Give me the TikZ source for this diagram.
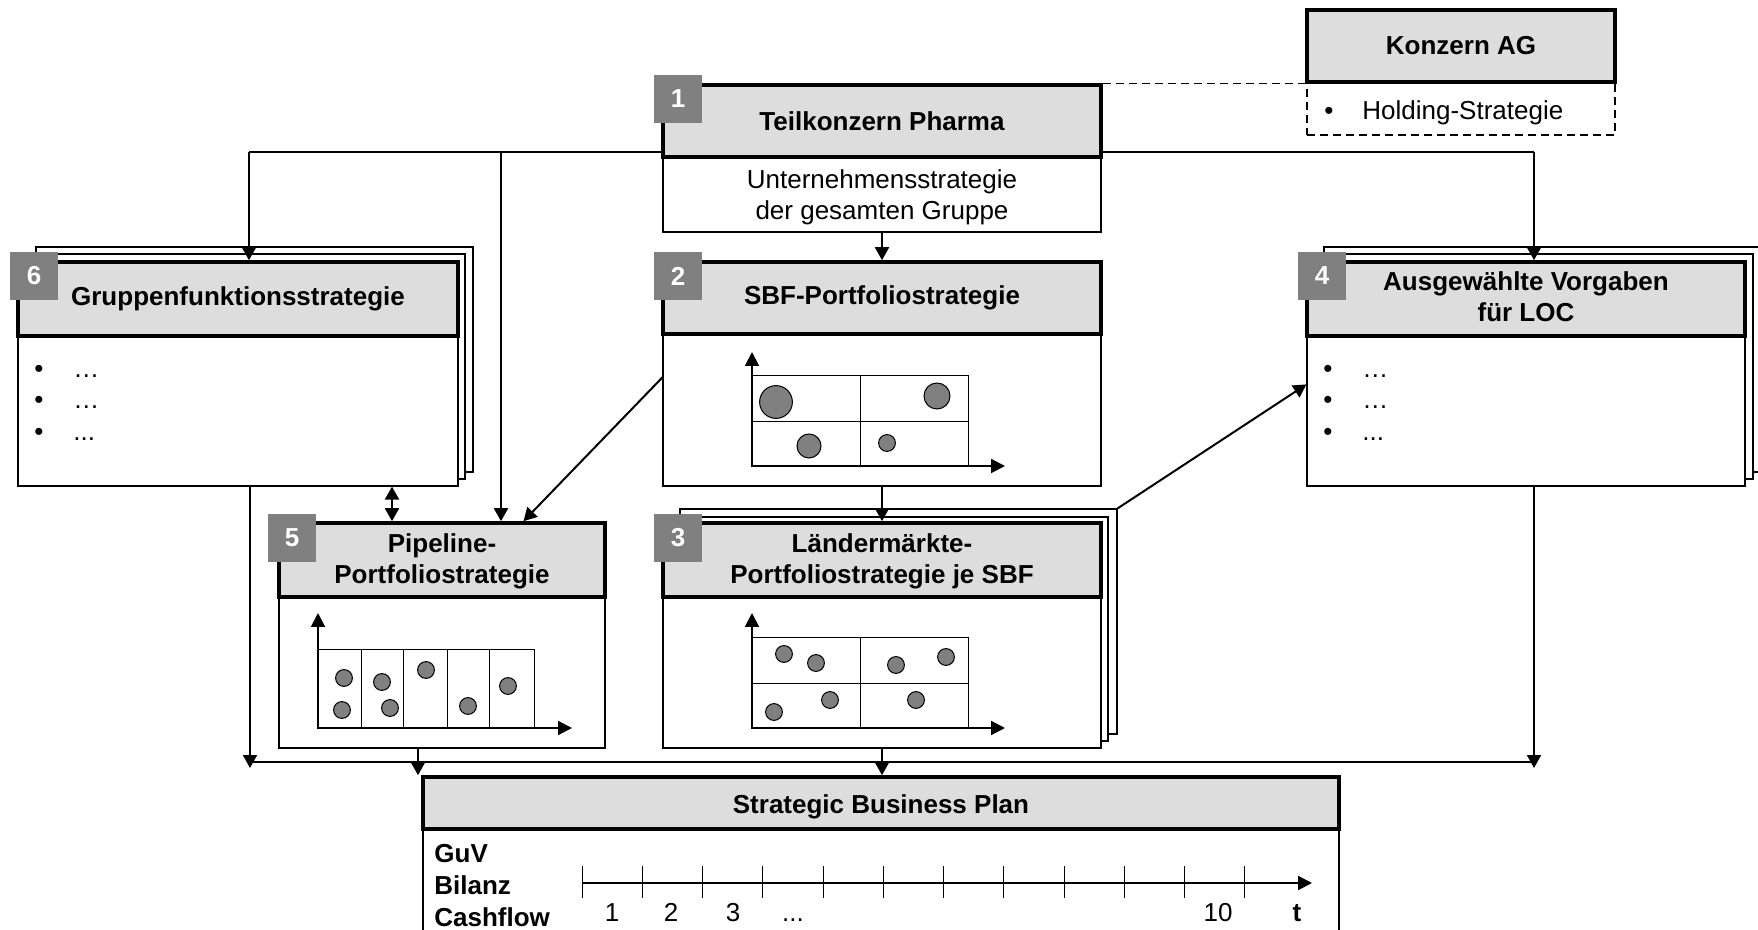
\documentclass[tikz,border=0pt]{standalone}
\usepackage{fontspec}
\setmainfont{Liberation Sans}
\usetikzlibrary{arrows.meta,fit,calc}
\definecolor{hdrgray}{RGB}{221,221,221}
\definecolor{badgegray}{RGB}{128,128,128}
\definecolor{dotgray}{RGB}{128,128,128}
\begin{document}
\begin{tikzpicture}[x=0.5pt,y=-0.5pt,
 hdr/.style={draw, line width=1.8pt, fill=hdrgray, inner sep=0pt},
 htxt/.style={inner sep=0pt, font=\bfseries\fontsize{13}{15.5}\selectfont, align=center},
 cont/.style={draw, line width=0.6pt, fill=white, inner sep=0pt},
 page/.style={draw, line width=0.6pt, fill=white, inner sep=0pt},
 badge/.style={fill=badgegray, inner sep=0pt, minimum size=24pt, font=\bfseries\fontsize{13}{15}\selectfont, text=white},
 txt/.style={inner sep=0pt, font=\fontsize{13}{15.5}\selectfont},
 btxt/.style={inner sep=0pt, font=\bfseries\fontsize{13}{15.5}\selectfont},
 arr/.style={line width=1pt, -{Triangle[length=6.5pt,width=7pt]}},
 dblarr/.style={line width=1pt, {Triangle[length=6.5pt,width=7pt]}-{Triangle[length=6.5pt,width=7pt]}},
 link/.style={line width=0.8pt},
 axis/.style={line width=1pt, {Triangle[length=7pt,width=7pt]}-{Triangle[length=7pt,width=7pt]}},
 gridln/.style={line width=0.5pt},
 dot/.style={draw, line width=0.5pt, fill=dotgray},
 dashedlink/.style={line width=0.6pt, dash pattern=on 4pt off 2.5pt},
]
\useasboundingbox (0,0) rectangle (1758,930);

% junction coordinates
\coordinate (tl) at (249,152);
\coordinate (t5) at (501,152);
\coordinate (tr) at (1534,152);
\coordinate (bl) at (250,762);
\coordinate (br) at (1534,762);
\coordinate (blt) at (250,768);
\coordinate (brt) at (1534,768);
\coordinate (dbl) at (392,0);
\coordinate (c5) at (418,0);

% top distribution line (behind box 1)
\draw[link] (tl) -- (tr);

% ---- Konzern AG
\node[page, dashedlink, fit={(1307,82) (1615,135)}] (kd) {};
\node[hdr, fit={(1307,10) (1615,82)}] (kh) {};
\node[htxt] (kht) at (kh.center) {Konzern AG};
\node[txt, anchor=base] (kbul) at (1329,120) {•};
\node[txt, anchor=base west] (ktxt) at (1362,120) {Holding-Strategie};

% ---- Box 1
\node[cont, fit={(663,157) (1101,232)}] (k1s) {};
\node[txt, align=center] (k1st) at ([yshift=-1.5pt]k1s.center) {Unternehmensstrategie\\der gesamten Gruppe};
\node[hdr, fit={(663,85) (1101,157)}] (k1h) {};
\node[htxt] (k1ht) at ([yshift=0pt]k1h.center) {Teilkonzern Pharma};
\node[badge] (b1) at (678,99) {1};

% ---- Box 6
\node[page, fit={(36,247) (473,472)}] (g6p2) {};
\node[page, fit={(27,254) (465,479)}] (g6p1) {};
\node[cont, fit={(18,336) (458,486)}] (g6c) {};
\node[hdr, fit={(18,262) (458,336)}] (g6h) {};
\node[htxt] (g6ht) at (g6h.center) {Gruppenfunktionsstrategie};
\node[badge] (b6) at (34,276) {6};
\node[txt, anchor=base] (g6b1) at (39,378) {•};
\node[txt, anchor=base] (g6b2) at (39,409) {•};
\node[txt, anchor=base] (g6b3) at (39,441) {•};
\node[txt, anchor=base west] (g6t1) at (73,378) {…};
\node[txt, anchor=base west] (g6t2) at (73,409) {…};
\node[txt, anchor=base west] (g6t3) at (73,441) {...};

% ---- Box 4
\node[page, fit={(1324,247) (1764,472)}] (a4p2) {};
\node[page, fit={(1315,254) (1753,479)}] (a4p1) {};
\node[cont, fit={(1307,336) (1745,486)}] (a4c) {};
\node[hdr, fit={(1307,262) (1745,336)}] (a4h) {};
\node[htxt] (a4ht) at ([yshift=1pt]a4h.center) {Ausgewählte Vorgaben\\für LOC};
\node[badge] (b4) at (1322,276) {4};
\node[txt, anchor=base] (a4b1) at (1328,378) {•};
\node[txt, anchor=base] (a4b2) at (1328,409) {•};
\node[txt, anchor=base] (a4b3) at (1328,441) {•};
\node[txt, anchor=base west] (a4t1) at (1362,378) {…};
\node[txt, anchor=base west] (a4t2) at (1362,409) {…};
\node[txt, anchor=base west] (a4t3) at (1362,441) {...};

% ---- Box 2
\node[cont, fit={(663,334) (1101,486)}] (s2c) {};
\node[hdr, fit={(663,262) (1101,334)}] (s2h) {};
\node[htxt] (s2ht) at (s2h.center) {SBF-Portfoliostrategie};
\node[badge] (b2) at (678,276) {2};
\draw[gridln] (752,376) rectangle (968,466);
\draw[gridln] (860,376) -- (860,466) (752,422) -- (968,422);
\draw[axis] (752,352) |- (1005,466);
\draw[dot] (776,402) circle[radius=8.2pt];
\draw[dot] (937,396) circle[radius=6.5pt];
\draw[dot] (809,446) circle[radius=6pt];
\draw[dot] (887,443) circle[radius=4.2pt];

% ---- Box 3
\node[page, fit={(680,509) (1117,734)}] (s3p2) {};
\node[page, fit={(671,517) (1108,741)}] (s3p1) {};
\node[cont, fit={(663,597) (1101,748)}] (s3c) {};
\node[hdr, fit={(663,523) (1101,597)}] (s3h) {};
\node[htxt] (s3ht) at ([yshift=-0.5pt]s3h.center) {Ländermärkte-\\Portfoliostrategie je SBF};
\node[badge] (b3) at (678,538) {3};
\draw[gridln] (752,638) rectangle (968,728);
\draw[gridln] (860,638) -- (860,728) (752,684) -- (968,684);
\draw[axis] (752,613) |- (1005,728);
\foreach \px/\py in {784/654,816/663,896/665,946/657,830/700,774/712,916/700}
  \draw[dot] (\px,\py) circle[radius=4.2pt];

% ---- Box 5
\node[cont, fit={(279,597) (605,748)}] (p5c) {};
\node[hdr, fit={(279,523) (605,597)}] (p5h) {};
\node[htxt] (p5ht) at ([yshift=-0.5pt]p5h.center) {Pipeline-\\Portfoliostrategie};
\node[badge] (b5) at (292,538) {5};
\draw[gridln] (318,650) rectangle (534,728);
\foreach \vx in {361,403,447,489} \draw[gridln] (\vx,650) -- (\vx,728);
\draw[axis] (318,613) |- (572,728);
\foreach \px/\py in {344/678,342/710,382/682,390/708,426/670,468/706,508/686}
  \draw[dot] (\px,\py) circle[radius=4.2pt];

% ---- Strategic Business Plan
\node[cont, fit={(423,829) (1339,960)}] (sbc) {};
\node[hdr, fit={(423,777) (1339,829)}] (sbh) {};
\node[htxt] (sbht) at ([yshift=-2pt]sbh.center) {Strategic Business Plan};
\node[btxt, anchor=base west] (guv) at (434,862) {GuV};
\node[btxt, anchor=base west] (bil) at (434,894) {Bilanz};
\node[btxt, anchor=base west] (cash) at (434,926) {Cashflow};
\draw[line width=1pt, -{Triangle[length=7pt,width=7pt]}] (582,883) -- (1312,883);
\foreach \i in {0,...,11} \draw[line width=0.5pt] ({582+60.27*\i},866) -- ({582+60.27*\i},898);
\node[txt, anchor=base] (n1) at (612,921) {1};
\node[txt, anchor=base] (n2) at (671,921) {2};
\node[txt, anchor=base] (n3) at (733,921) {3};
\node[txt, anchor=base] (ndots) at (793,921) {...};
\node[txt, anchor=base] (n10) at (1218,921) {10};
\node[btxt, anchor=base] (nt) at (1297,921) {t};

% ---- connectors
\draw[dashedlink] (k1h.north east) -- (k1h.north east -| kd.west);
\draw[arr] (tl) -- (tl |- g6h.north);
\draw[arr] (t5) -- (t5 |- p5h.north);
\draw[arr] (tr) -- (tr |- a4h.north);
\draw[arr] (k1s.south) -- (k1s.south |- s2h.north);
\draw[arr] (s2c.south) -- (s2c.south |- s3h.north);
\draw[arr] ([yshift=-22pt]s2c.north west) -- ([xshift=40.75pt]p5h.north);
\draw[arr] (s3p2.north east) -- ([yshift=-24.5pt]a4c.north west);
\draw[dblarr] (dbl |- g6c.south) -- (dbl |- p5h.north);
\draw[link] (bl) -- (br);
\draw[arr] (bl |- g6c.south) -- (blt);
\draw[arr] (br |- a4c.south) -- (brt);
\draw[arr] (c5 |- p5c.south) -- (c5 |- sbh.north);
\draw[arr] (s3c.south) -- (s3c.south |- sbh.north);
\end{tikzpicture}
\end{document}
